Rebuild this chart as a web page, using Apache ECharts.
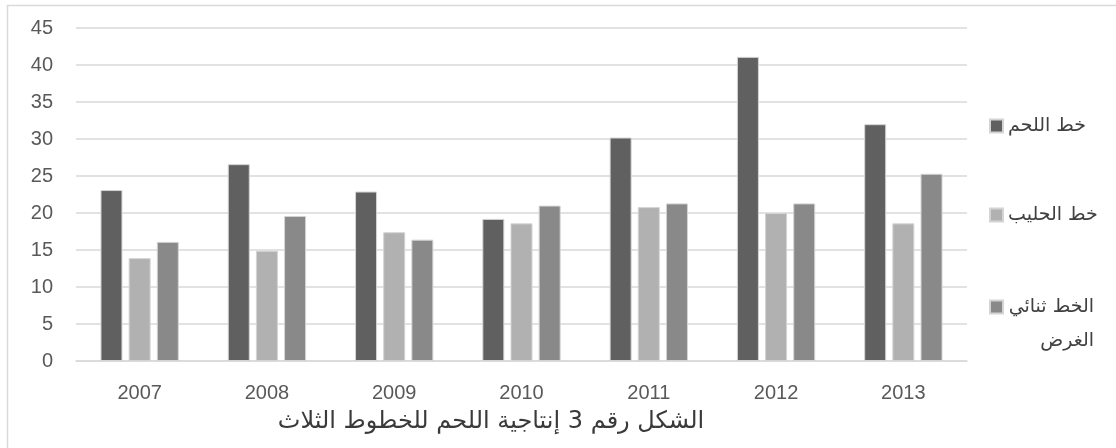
<!DOCTYPE html>
<html>
<head>
<meta charset="utf-8">
<script src="https://cdn.jsdelivr.net/npm/echarts@6/dist/echarts.min.js"></script>
<style>
  html, body { margin: 0; padding: 0; background: #ffffff; }
  #chart { width: 1116px; height: 448px; }
</style>
</head>
<body>
<div id="chart"></div>
<script>
// Meat production of the three breeding lines, 2007–2013
const years = ['2007', '2008', '2009', '2010', '2011', '2012', '2013'];
const meatLine = [23.1, 26.6, 22.9, 19.2, 30.2, 41.1, 32.0];
const milkLine = [13.9, 14.9, 17.4, 18.6, 20.8, 20.0, 18.6];
const dualLine = [16.1, 19.6, 16.4, 21.0, 21.3, 21.3, 25.3];
const seriesNames = ['خط اللحم', 'خط الحليب', 'الخط ثنائي الغرض'];
const dualLines = ['الخط ثنائي', 'الغرض'];
const yTicks = { min: 0, max: 45, interval: 5 };
const titleText = 'الشكل رقم 3 إنتاجية اللحم للخطوط الثلاث';

const colors = ['#606060', '#b1b1b1', '#898989'];
const labelFont = '"Liberation Sans", Arial, sans-serif';
const arabicFont = '"DejaVu Sans", "Liberation Sans", sans-serif';
const legendFontSize = 19;

// width of the longer line of the wrapped legend entry, so both lines right-align
const measureCtx = document.createElement('canvas').getContext('2d');
measureCtx.font = legendFontSize + 'px ' + arabicFont;
const dualWidth = Math.ceil(Math.max.apply(null, dualLines.map(function (t) {
  return measureCtx.measureText(t).width;
})));

function barSeries(name, data, color) {
  return {
    name: name,
    type: 'bar',
    data: data,
    barWidth: 22,
    barGap: '28%',
    itemStyle: { color: color, borderColor: '#d4d4d4', borderWidth: 1 },
    emphasis: { disabled: true }
  };
}

function legendItem(name, top) {
  const tok = {
    fontFamily: arabicFont, fontSize: legendFontSize, color: '#404040',
    lineHeight: 34, width: dualWidth, align: 'right'
  };
  return {
    data: [name],
    orient: 'vertical',
    left: 984,
    top: top,
    itemWidth: 13,
    itemHeight: 13,
    itemGap: 4,
    icon: 'rect',
    selectedMode: false,
    textStyle: {
      fontFamily: arabicFont,
      fontSize: legendFontSize,
      color: '#404040',
      lineHeight: 34,
      rich: { a: tok, b: tok }
    },
    formatter: function (n) {
      if (n === seriesNames[2]) {
        return '\n{a|' + dualLines[0] + '}\n{b|' + dualLines[1] + '}';
      }
      return n;
    }
  };
}

const chart = echarts.init(document.getElementById('chart'), null, { renderer: 'canvas' });
chart.setOption({
  animation: false,
  backgroundColor: '#ffffff',
  color: colors,
  title: {
    text: titleText,
    left: 486,
    top: 405,
    textAlign: 'center',
    textStyle: {
      fontFamily: arabicFont,
      fontSize: 24,
      fontWeight: 'normal',
      color: '#3a3a3a'
    }
  },
  grid: { left: 76, right: 149, top: 28, bottom: 87, containLabel: false },
  legend: [
    legendItem(seriesNames[0], 104),
    legendItem(seriesNames[1], 193),
    legendItem(seriesNames[2], 251)
  ],
  xAxis: {
    type: 'category',
    data: years,
    axisLine: { show: true, lineStyle: { color: '#d9d9d9', width: 1.5 } },
    axisTick: { show: false },
    axisLabel: {
      fontFamily: labelFont,
      fontSize: 20,
      color: '#595959',
      margin: 22
    }
  },
  yAxis: {
    type: 'value',
    min: yTicks.min,
    max: yTicks.max,
    interval: yTicks.interval,
    axisLine: { show: false },
    axisTick: { show: false },
    splitLine: { lineStyle: { color: '#d9d9d9', width: 1.5 } },
    axisLabel: {
      fontFamily: labelFont,
      fontSize: 20,
      color: '#595959',
      margin: 23
    }
  },
  graphic: [
    {
      type: 'rect',
      silent: true,
      z: 100,
      shape: { x: 7.5, y: 5.5, width: 1300, height: 600 },
      style: { fill: 'none', stroke: '#d9d9d9', lineWidth: 1.5 }
    }
  ],
  series: [
    barSeries(seriesNames[0], meatLine, colors[0]),
    barSeries(seriesNames[1], milkLine, colors[1]),
    barSeries(seriesNames[2], dualLine, colors[2])
  ]
});
</script>
</body>
</html>
